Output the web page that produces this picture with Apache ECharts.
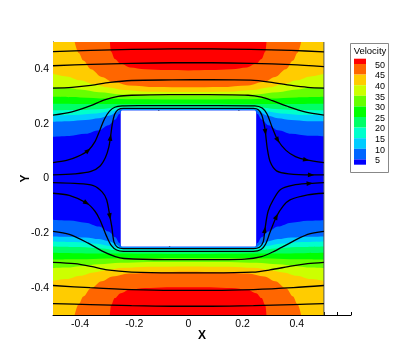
<!DOCTYPE html>
<html>
<head>
<meta charset="utf-8">
<script src="https://cdn.jsdelivr.net/npm/echarts@6/dist/echarts.min.js"></script>
<style>
html,body{margin:0;padding:0;background:#fff;}
#chart{width:399px;height:355px;}
</style>
</head>
<body>
<div id="chart"></div>
<script>
// ---------- data ----------
const xRange = [-0.5, 0.5];
const yRange = [-0.5, 0.5];
const blockX = [-0.25, 0.25];
const blockY = [-0.25, 0.25];
const tickLabels = [-0.4, -0.2, 0, 0.2, 0.4];
const levels = [5, 10, 15, 20, 25, 30, 35, 40, 45, 50];
const bandColors = ['#0000FF','#0066FF','#00CCFF','#00FFCC','#00FF66','#00FF00','#66FF00','#CCFF00','#FFCC00','#FF6600','#FF0000'];

// contour lines, upper half (velocity above the line exceeds the level)
const topC5  = [[-0.5,0.153],[-0.44,0.156],[-0.38,0.164],[-0.33,0.177],[-0.295,0.195],[-0.27,0.216],[-0.255,0.236],[-0.245,0.2502],[0,0.2502],[0.245,0.2502],[0.255,0.236],[0.27,0.216],[0.295,0.195],[0.33,0.177],[0.38,0.164],[0.44,0.157],[0.5,0.155]];
const topC10 = [[-0.5,0.208],[-0.44,0.21],[-0.38,0.214],[-0.33,0.221],[-0.29,0.231],[-0.265,0.242],[-0.25,0.2525],[0,0.2525],[0.25,0.2525],[0.265,0.242],[0.29,0.231],[0.33,0.221],[0.38,0.214],[0.44,0.21],[0.5,0.21]];
const topC15 = [[-0.5,0.231],[-0.42,0.233],[-0.34,0.238],[-0.29,0.245],[-0.26,0.252],[-0.24,0.256],[0,0.256],[0.24,0.256],[0.26,0.252],[0.29,0.245],[0.34,0.238],[0.42,0.233],[0.5,0.231]];
const topC20 = [[-0.5,0.25],[-0.4,0.251],[-0.32,0.255],[-0.27,0.26],[-0.22,0.264],[0,0.264],[0.22,0.264],[0.27,0.26],[0.32,0.255],[0.4,0.251],[0.5,0.25]];
const topC25 = [[-0.5,0.274],[-0.3,0.273],[0,0.274],[0.3,0.273],[0.5,0.274]];
const topC30 = [[-0.5,0.299],[-0.4,0.297],[-0.3,0.293],[-0.2,0.29],[0,0.289],[0.2,0.29],[0.3,0.293],[0.4,0.297],[0.5,0.299]];
const topC35 = [[-0.5,0.335],[-0.45,0.332],[-0.4,0.326],[-0.33,0.316],[-0.25,0.308],[-0.15,0.305],[0,0.304],[0.15,0.305],[0.25,0.308],[0.33,0.316],[0.4,0.326],[0.45,0.332],[0.5,0.335]];
const topC40 = [[-0.5,0.384],[-0.45,0.374],[-0.4,0.36],[-0.35,0.346],[-0.3,0.334],[-0.24,0.324],[-0.15,0.318],[0,0.317],[0.15,0.318],[0.24,0.324],[0.3,0.334],[0.35,0.346],[0.4,0.36],[0.45,0.374],[0.5,0.384]];
const topC45 = [[-0.42,0.5],[-0.405,0.46],[-0.388,0.432],[-0.36,0.4],[-0.32,0.372],[-0.28,0.354],[-0.22,0.341],[-0.12,0.335],[0,0.334],[0.12,0.335],[0.22,0.341],[0.28,0.354],[0.32,0.372],[0.36,0.4],[0.386,0.432],[0.402,0.46],[0.416,0.5]];
const topC50 = [[-0.29,0.5],[-0.286,0.465],[-0.272,0.438],[-0.25,0.42],[-0.215,0.407],[-0.16,0.4],[-0.08,0.397],[0,0.396],[0.08,0.397],[0.16,0.4],[0.215,0.407],[0.25,0.42],[0.27,0.438],[0.284,0.465],[0.288,0.5]];

// contour lines, lower half (velocity below the line exceeds the level)
const botC5  = [[-0.5,-0.151],[-0.44,-0.154],[-0.38,-0.162],[-0.33,-0.176],[-0.295,-0.194],[-0.27,-0.215],[-0.255,-0.236],[-0.245,-0.2502],[0,-0.2502],[0.245,-0.2502],[0.255,-0.236],[0.27,-0.215],[0.295,-0.194],[0.33,-0.176],[0.38,-0.162],[0.44,-0.155],[0.5,-0.153]];
const botC10 = [[-0.5,-0.212],[-0.44,-0.213],[-0.38,-0.216],[-0.33,-0.222],[-0.29,-0.231],[-0.265,-0.242],[-0.25,-0.2525],[0,-0.2525],[0.25,-0.2525],[0.265,-0.242],[0.29,-0.231],[0.33,-0.222],[0.38,-0.216],[0.44,-0.213],[0.5,-0.212]];
const botC15 = [[-0.5,-0.231],[-0.42,-0.233],[-0.34,-0.239],[-0.29,-0.247],[-0.26,-0.254],[-0.24,-0.258],[0,-0.259],[0.24,-0.258],[0.26,-0.254],[0.29,-0.247],[0.34,-0.239],[0.42,-0.233],[0.5,-0.231]];
const botC20 = [[-0.5,-0.249],[-0.4,-0.251],[-0.32,-0.256],[-0.27,-0.262],[-0.22,-0.266],[0,-0.267],[0.22,-0.266],[0.27,-0.262],[0.32,-0.256],[0.4,-0.251],[0.5,-0.249]];
const botC25 = [[-0.5,-0.272],[-0.3,-0.275],[0,-0.277],[0.3,-0.275],[0.5,-0.272]];
const botC30 = [[-0.5,-0.297],[-0.4,-0.296],[-0.3,-0.293],[-0.2,-0.291],[0,-0.291],[0.2,-0.291],[0.3,-0.293],[0.4,-0.296],[0.5,-0.297]];
const botC35 = [[-0.5,-0.328],[-0.45,-0.326],[-0.4,-0.321],[-0.33,-0.314],[-0.25,-0.309],[-0.15,-0.306],[0,-0.306],[0.15,-0.306],[0.25,-0.309],[0.33,-0.314],[0.4,-0.321],[0.45,-0.326],[0.5,-0.328]];
const botC40 = [[-0.5,-0.375],[-0.45,-0.368],[-0.4,-0.356],[-0.35,-0.344],[-0.3,-0.335],[-0.24,-0.327],[-0.15,-0.323],[0,-0.322],[0.15,-0.323],[0.24,-0.327],[0.3,-0.335],[0.35,-0.344],[0.4,-0.356],[0.45,-0.368],[0.5,-0.375]];
const botC45 = [[-0.42,-0.5],[-0.405,-0.46],[-0.388,-0.432],[-0.36,-0.402],[-0.32,-0.376],[-0.28,-0.359],[-0.22,-0.348],[-0.12,-0.343],[0,-0.342],[0.12,-0.343],[0.22,-0.348],[0.28,-0.359],[0.32,-0.376],[0.36,-0.402],[0.386,-0.432],[0.402,-0.46],[0.416,-0.5]];
const botC50 = [[-0.29,-0.5],[-0.286,-0.465],[-0.272,-0.438],[-0.25,-0.42],[-0.215,-0.407],[-0.16,-0.401],[-0.08,-0.398],[0,-0.398],[0.08,-0.398],[0.16,-0.401],[0.215,-0.407],[0.25,-0.42],[0.27,-0.438],[0.284,-0.465],[0.288,-0.5]];

// streamlines [x, y, arrowFlag]
const s1Top = [[-0.5,0.465],[-0.36,0.469,1],[-0.21,0.473,1],[-0.06,0.475,1],[0.085,0.475,1],[0.23,0.473,1],[0.38,0.469,1],[0.5,0.464]];
const s2Top = [[-0.5,0.413],[-0.36,0.418,1],[-0.21,0.422,1],[-0.06,0.424,1],[0.085,0.424,1],[0.23,0.422,1],[0.38,0.417,1],[0.5,0.41]];
const s3Top = [[-0.5,0.331],[-0.43,0.334],[-0.36,0.341,1],[-0.29,0.352],[-0.21,0.359,1],[-0.06,0.361,1],[0.085,0.362,1],[0.23,0.36,1],[0.3,0.353],[0.38,0.341,1],[0.44,0.334],[0.5,0.331]];
const s4Top = [[-0.5,0.232],[-0.43,0.244],[-0.363,0.266,1],[-0.31,0.288],[-0.26,0.301],[-0.21,0.305,1],[-0.068,0.307,1],[0.072,0.307,1],[0.22,0.305,1],[0.27,0.298],[0.31,0.285],[0.361,0.266,1],[0.43,0.244],[0.5,0.232]];
const s5Top = [[-0.5,0.058],[-0.45,0.066],[-0.41,0.08],[-0.37,0.103,1],[-0.345,0.135],[-0.327,0.177],[-0.31,0.218],[-0.292,0.246],[-0.272,0.261],[-0.245,0.266],[-0.185,0.267,1],[-0.04,0.267,1],[0.11,0.267,1],[0.245,0.266],[0.272,0.258],[0.29,0.236],[0.308,0.19],[0.33,0.14,1],[0.36,0.103],[0.395,0.08],[0.435,0.068,1],[0.5,0.058]];
const s6Top = [[-0.5,0.013],[-0.42,0.017],[-0.36,0.026],[-0.327,0.045],[-0.306,0.078],[-0.294,0.115],[-0.288,0.15,1],[-0.281,0.2],[-0.272,0.236],[-0.26,0.252],[-0.24,0.257],[-0.1,0.257,1],[0.196,0.257,1],[0.24,0.257],[0.258,0.252],[0.271,0.232],[0.279,0.2],[0.284,0.17,1],[0.291,0.11],[0.302,0.06],[0.325,0.028],[0.37,0.017],[0.453,0.013,1],[0.5,0.013]];
const s1Bot = [[-0.5,-0.458],[-0.363,-0.462,1],[-0.21,-0.466,1],[-0.06,-0.468,1],[0.085,-0.468,1],[0.24,-0.466,1],[0.387,-0.462,1],[0.5,-0.458]];
const s2Bot = [[-0.5,-0.392],[-0.363,-0.4,1],[-0.21,-0.407,1],[-0.06,-0.41,1],[0.092,-0.41,1],[0.24,-0.407,1],[0.387,-0.4,1],[0.5,-0.392]];
const s3Bot = [[-0.5,-0.307],[-0.42,-0.312],[-0.36,-0.322],[-0.3,-0.335],[-0.21,-0.343,1],[-0.056,-0.346,1],[0.086,-0.346,1],[0.236,-0.343,1],[0.3,-0.335],[0.384,-0.32,1],[0.44,-0.312],[0.5,-0.307]];
const s4Bot = [[-0.5,-0.194],[-0.44,-0.205],[-0.37,-0.237,1],[-0.32,-0.265],[-0.27,-0.286],[-0.238,-0.293,1],[-0.087,-0.297,1],[0.06,-0.297,1],[0.208,-0.295,1],[0.27,-0.286],[0.32,-0.265],[0.344,-0.252,1],[0.44,-0.205],[0.5,-0.194]];
const s5Bot = [[-0.5,-0.054],[-0.44,-0.062],[-0.376,-0.09,1],[-0.345,-0.12],[-0.327,-0.151],[-0.302,-0.212],[-0.285,-0.245],[-0.265,-0.262],[-0.24,-0.267],[-0.197,-0.267,1],[0.05,-0.267,1],[0.24,-0.267],[0.268,-0.26],[0.285,-0.24],[0.3,-0.2],[0.325,-0.139,1],[0.35,-0.1],[0.375,-0.078],[0.44,-0.06],[0.5,-0.054]];
const s6Bot = [[-0.5,-0.015],[-0.42,-0.018],[-0.351,-0.026],[-0.318,-0.05],[-0.302,-0.078],[-0.29,-0.139,1],[-0.283,-0.176],[-0.275,-0.232],[-0.262,-0.252],[-0.24,-0.257],[-0.06,-0.257,1],[0.24,-0.257],[0.262,-0.252],[0.276,-0.232],[0.282,-0.188,1],[0.294,-0.12],[0.313,-0.078],[0.34,-0.04],[0.387,-0.024],[0.448,-0.018,1],[0.5,-0.015]];

// ---------- build ----------
const topContours = [topC5, topC10, topC15, topC20, topC25, topC30, topC35, topC40, topC45, topC50];
const botContours = [botC5, botC10, botC15, botC20, botC25, botC30, botC35, botC40, botC45, botC50];
const streams = [s1Top, s2Top, s3Top, s4Top, s5Top, s6Top, s1Bot, s2Bot, s3Bot, s4Bot, s5Bot, s6Bot];

const FONT = '"Liberation Sans", Arial, Helvetica, sans-serif';
const series = [];

// background band (lowest level)
series.push({
  type: 'custom', xAxisIndex: 0, yAxisIndex: 0, silent: true,
  data: [[xRange[0], yRange[1], xRange[1], yRange[0]]],
  renderItem: function (params, api) {
    const a = api.coord([api.value(0), api.value(1)]);
    const b = api.coord([api.value(2), api.value(3)]);
    return { type: 'rect', shape: { x: a[0], y: a[1], width: b[0] - a[0], height: b[1] - a[1] }, style: { fill: bandColors[0] } };
  }
});

function contourSeries(pts, color, origin) {
  return {
    type: 'line', xAxisIndex: 0, yAxisIndex: 0, silent: true,
    data: pts, smooth: 0.35, smoothMonotone: 'x',
    symbol: 'none', showSymbol: false,
    lineStyle: { width: 0, opacity: 0 },
    areaStyle: { color: color, opacity: 1, origin: origin }
  };
}
for (let i = 0; i < levels.length; i++) {
  series.push(contourSeries(topContours[i], bandColors[i + 1], 'end'));
  series.push(contourSeries(botContours[i], bandColors[i + 1], 'start'));
}

// solid block (white)
series.push({
  type: 'custom', xAxisIndex: 0, yAxisIndex: 0, silent: true,
  data: [[blockX[0], blockY[1], blockX[1], blockY[0]]],
  renderItem: function (params, api) {
    const a = api.coord([api.value(0), api.value(1)]);
    const b = api.coord([api.value(2), api.value(3)]);
    return { type: 'rect', shape: { x: a[0], y: a[1], width: b[0] - a[0], height: b[1] - a[1] }, style: { fill: '#ffffff' } };
  }
});

// right edge of domain
series.push({
  type: 'line', xAxisIndex: 0, yAxisIndex: 0, silent: true,
  data: [[xRange[1], yRange[0]], [xRange[1], yRange[1]]],
  symbol: 'none', lineStyle: { color: '#555', width: 1 }
});

// streamlines
streams.forEach(function (s) {
  series.push({
    type: 'line', xAxisIndex: 0, yAxisIndex: 0, silent: true,
    data: s.map(function (p) { return [p[0], p[1]]; }),
    smooth: 0.3, symbol: 'none', showSymbol: false,
    lineStyle: { color: '#000', width: 1.3 }
  });
});

// arrows
const arrowData = [];
streams.forEach(function (s) {
  s.forEach(function (p, i) {
    if (p[2]) {
      const a = s[i - 1], b = s[i + 1];
      arrowData.push([p[0], p[1], a[0], a[1], b[0], b[1]]);
    }
  });
});
series.push({
  type: 'custom', xAxisIndex: 0, yAxisIndex: 0, silent: true,
  dimensions: ['x', 'y', 'ax', 'ay', 'bx', 'by'],
  encode: { x: 0, y: 1 },
  data: arrowData,
  renderItem: function (params, api) {
    const p = api.coord([api.value(0), api.value(1)]);
    const a = api.coord([api.value(2), api.value(3)]);
    const b = api.coord([api.value(4), api.value(5)]);
    const ang = Math.atan2(b[1] - a[1], b[0] - a[0]);
    const c = Math.cos(ang), s = Math.sin(ang);
    const L = 6.5, W = 2.4;
    const tip = [p[0] + c * L / 2, p[1] + s * L / 2];
    const base = [p[0] - c * L / 2, p[1] - s * L / 2];
    return {
      type: 'polygon',
      shape: { points: [tip, [base[0] - s * W, base[1] + c * W], [base[0] + s * W, base[1] - c * W]] },
      style: { fill: '#000' }
    };
  }
});

// legend graphics
const legendEls = [];
legendEls.push({ type: 'rect', shape: { x: 350.5, y: 43.5, width: 38, height: 129 }, style: { fill: '#fff', stroke: '#888', lineWidth: 1 }, z: 10 });
legendEls.push({ type: 'text', x: 370, y: 51, style: { text: 'Velocity', font: '9.5px ' + FONT, fill: '#000', align: 'center', verticalAlign: 'middle' }, z: 11 });
const boxX = 354, boxW = 12, bTop = 64, step = 10.6, endH = 5.3;
for (let k = bandColors.length - 1; k >= 0; k--) {
  const idxFromTop = bandColors.length - 1 - k;
  let y0, h;
  if (idxFromTop === 0) { y0 = bTop - endH; h = endH; }
  else if (k === 0) { y0 = bTop + step * 9; h = endH; }
  else { y0 = bTop + step * (idxFromTop - 1); h = step; }
  legendEls.push({ type: 'rect', shape: { x: boxX, y: y0, width: boxW, height: h }, style: { fill: bandColors[k] }, z: 11 });
}
for (let i = 0; i < levels.length; i++) {
  const lv = levels[levels.length - 1 - i];
  legendEls.push({ type: 'text', x: 375, y: bTop + step * i + 1.3, style: { text: String(lv), font: '9px ' + FONT, fill: '#000', align: 'left', verticalAlign: 'middle' }, z: 11 });
}

const gridBox = { left: 53, right: 48, top: 42, bottom: 40, show: false };
const chart = echarts.init(document.getElementById('chart'), null, { renderer: 'canvas' });
chart.setOption({
  animation: false,
  backgroundColor: '#fff',
  grid: [Object.assign({}, gridBox), Object.assign({}, gridBox)],
  xAxis: [{
    gridIndex: 0, type: 'value', min: -0.5, max: 0.6, interval: 0.05, position: 'bottom',
    axisLine: { show: true, onZero: false, lineStyle: { color: '#000', width: 1 } },
    axisTick: { show: true, inside: true, length: 3, lineStyle: { color: '#000' } },
    axisLabel: { show: true, customValues: tickLabels, formatter: function (v) { return String(v); }, color: '#000', fontSize: 10.5, fontFamily: FONT, margin: 4 },
    splitLine: { show: false },
    name: 'X', nameLocation: 'middle', nameGap: 14.5, nameMoveOverlap: false,
    nameTextStyle: { fontWeight: 'bold', fontSize: 12, color: '#000', fontFamily: FONT }
  }, {
    gridIndex: 1, type: 'value', min: -0.5, max: 0.6, position: 'bottom',
    axisLine: { show: false, onZero: false },
    axisTick: { show: true, inside: true, length: 6, customValues: tickLabels, lineStyle: { color: '#000' } },
    axisLabel: { show: false },
    splitLine: { show: false }
  }],
  yAxis: [{
    gridIndex: 0, type: 'value', min: -0.5, max: 0.5, interval: 0.05, position: 'left',
    axisLine: { show: true, onZero: false, lineStyle: { color: '#000', width: 1 } },
    axisTick: { show: true, inside: true, length: 3, lineStyle: { color: '#000' } },
    axisLabel: { show: true, customValues: tickLabels, formatter: function (v) { return String(v); }, color: '#000', fontSize: 10.5, fontFamily: FONT, margin: 4 },
    splitLine: { show: false },
    name: 'Y', nameLocation: 'middle', nameGap: 21.5, nameRotate: 90, nameMoveOverlap: false,
    nameTextStyle: { fontWeight: 'bold', fontSize: 12, color: '#000', fontFamily: FONT }
  }, {
    gridIndex: 1, type: 'value', min: -0.5, max: 0.5, position: 'left',
    axisLine: { show: false, onZero: false },
    axisTick: { show: true, inside: true, length: 6, customValues: tickLabels, lineStyle: { color: '#000' } },
    axisLabel: { show: false },
    splitLine: { show: false }
  }],
  graphic: legendEls,
  series: series
});
</script>
</body>
</html>
